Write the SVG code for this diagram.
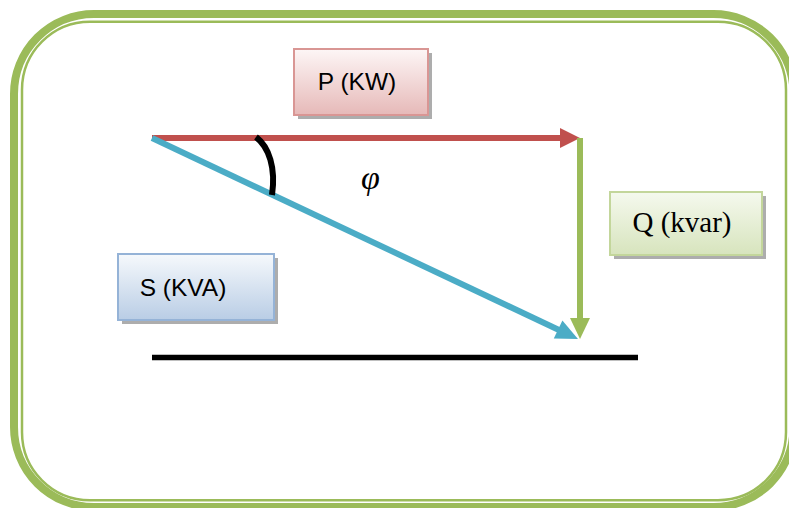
<svg xmlns="http://www.w3.org/2000/svg" width="789" height="508" viewBox="0 0 789 508">
  <defs>
    <linearGradient id="gP" x1="0" y1="0" x2="0" y2="1">
      <stop offset="0" stop-color="#FDF6F6"/>
      <stop offset="1" stop-color="#E6B9B8"/>
    </linearGradient>
    <linearGradient id="gS" x1="0" y1="0" x2="0" y2="1">
      <stop offset="0" stop-color="#F6F9FC"/>
      <stop offset="1" stop-color="#B9CDE5"/>
    </linearGradient>
    <linearGradient id="gQ" x1="0" y1="0" x2="0" y2="1">
      <stop offset="0" stop-color="#F5F9EE"/>
      <stop offset="1" stop-color="#D7E4BD"/>
    </linearGradient>
  </defs>
  <style>
    .frame { fill: none; stroke: #9BBB59; }
    .box { stroke-width: 2; }
    .shadow { fill: #000; opacity: 0.32; }
    .sans { font-family: "Liberation Sans", Arial, sans-serif; font-size: 24.5px; fill: #000; }
    .serif { font-family: "Liberation Serif", "Times New Roman", serif; font-size: 29px; fill: #000; }
    .phi { font-family: "Liberation Serif", "Times New Roman", serif; font-size: 34px; font-style: italic; fill: #000; }
    .vec { fill: none; stroke-width: 6; }
  </style>
  <rect width="789" height="508" fill="#FFFFFF"/>
  <g id="frame">
    <rect class="frame" x="14" y="14" width="779.5" height="493" rx="80" ry="80" stroke-width="8"/>
    <rect class="frame" x="22" y="21.7" width="764" height="478.5" rx="68" ry="68" stroke-width="2.5"/>
  </g>
  <g id="connectors">
    <path class="vec" d="M152,138 L562,138" stroke="#C0504D"/>
    <polygon points="560,128 580,138 560,148" fill="#C0504D"/>
    <path class="vec" d="M580,138 L580,320" stroke="#9BBB59"/>
    <polygon points="570,318 590,318 580,339" fill="#9BBB59"/>
    <path class="vec" d="M152,138 L559,330" stroke="#4BACC6"/>
    <polygon points="553.8,338.6 562.4,320.6 578,339" fill="#4BACC6"/>
    <path d="M152,357.5 L638,357.5" stroke="#000" stroke-width="5.5"/>
    <path d="M256,137 C269,147 276,168 272,195" fill="none" stroke="#000" stroke-width="6"/>
  </g>
  <g id="angle-label">
    <text class="phi" x="361" y="189">φ</text>
  </g>
  <g id="node-P">
    <rect class="shadow" x="298" y="53" width="134" height="66"/>
    <rect class="box" x="294" y="49" width="134" height="66" fill="url(#gP)" stroke="#D99694"/>
    <text class="sans" x="357" y="89.5" text-anchor="middle">P (KW)</text>
  </g>
  <g id="node-Q">
    <rect class="shadow" x="614" y="196" width="152" height="63"/>
    <rect class="box" x="610" y="192" width="152" height="63" fill="url(#gQ)" stroke="#C3D69B"/>
    <text class="serif" x="682" y="232" text-anchor="middle">Q (kvar)</text>
  </g>
  <g id="node-S">
    <rect class="shadow" x="122" y="258" width="156" height="66"/>
    <rect class="box" x="118" y="254" width="156" height="66" fill="url(#gS)" stroke="#95B3D7"/>
    <text class="sans" x="183" y="295.5" text-anchor="middle">S (KVA)</text>
  </g>
</svg>
